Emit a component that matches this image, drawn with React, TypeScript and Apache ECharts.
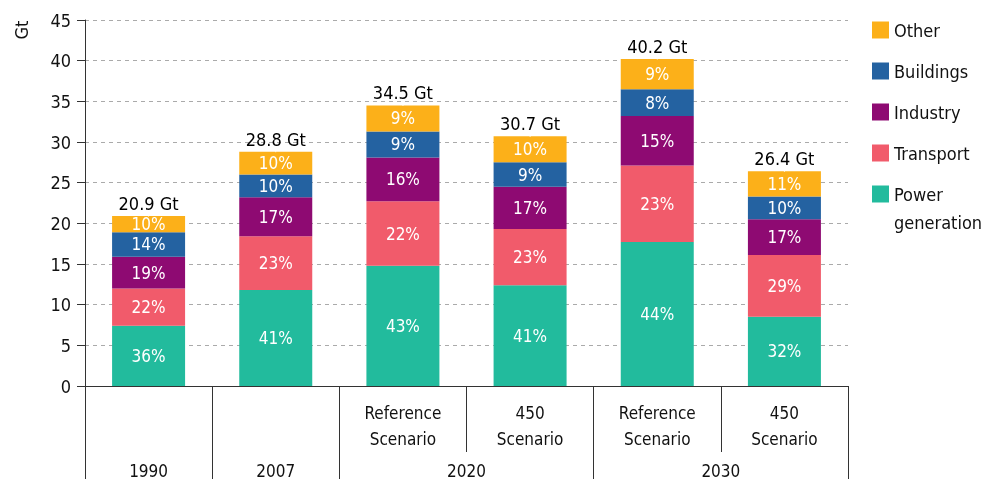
import React, { useEffect, useRef } from "react";
import * as echarts from "echarts";

const categories = ["1990", "2007", "2020 Reference Scenario", "2020 450 Scenario", "2030 Reference Scenario", "2030 450 Scenario"];
const subLabels = ["", "", "Reference\nScenario", "450\nScenario", "Reference\nScenario", "450\nScenario"];
const yearGroups = [
  { year: "1990", span: 1 },
  { year: "2007", span: 1 },
  { year: "2020", span: 2 },
  { year: "2030", span: 2 },
];

const powerValues = [7.4, 11.8, 14.8, 12.4, 17.7, 8.5];
const transportValues = [4.6, 6.6, 7.9, 6.9, 9.4, 7.6];
const industryValues = [3.9, 4.8, 5.4, 5.2, 6.1, 4.4];
const buildingsValues = [3.0, 2.8, 3.2, 3.0, 3.3, 2.8];
const otherValues = [2.0, 2.8, 3.2, 3.2, 3.7, 3.1];
const totals = [20.9, 28.8, 34.5, 30.7, 40.2, 26.4];

const powerPct = ["36%", "41%", "43%", "41%", "44%", "32%"];
const transportPct = ["22%", "23%", "22%", "23%", "23%", "29%"];
const industryPct = ["19%", "17%", "16%", "17%", "15%", "17%"];
const buildingsPct = ["14%", "10%", "9%", "9%", "8%", "10%"];
const otherPct = ["10%", "10%", "9%", "10%", "9%", "11%"];

const yTicks = { min: 0, max: 45, interval: 5 };
const legendOrder = ["Other", "Buildings", "Industry", "Transport", "Power generation"];

const FONT = '"Liberation Sans Narrow", "DejaVu Sans Condensed", "Roboto", sans-serif';

export default function App() {
  const ref = useRef<HTMLDivElement>(null);
  useEffect(() => {
    if (!ref.current) return;
    const chart = echarts.init(ref.current, undefined, { renderer: "svg" });

    const groupStarts: number[] = [];
    const yearLabelAt: Record<string, string> = {};
    let pos = 0;
    yearGroups.forEach((g) => {
      groupStarts.push(pos);
      yearLabelAt[String(pos + g.span / 2)] = g.year;
      pos += g.span;
    });

    const mk = (name: string, values: number[], pct: string[], color: string) => ({
      name,
      type: "bar",
      stack: "total",
      xAxisIndex: 0,
      yAxisIndex: 0,
      barWidth: 73,
      data: values,
      itemStyle: { color },
      label: {
        show: true,
        position: "inside",
        color: "#fff",
        fontSize: 17,
        fontFamily: FONT,
        formatter: (p: any) => pct[p.dataIndex],
      },
    });

    chart.setOption({
      animation: false,
      textStyle: { fontFamily: FONT },
      grid: { left: 85, top: 20, width: 763, height: 366 },
      legend: {
        orient: "vertical",
        left: 872,
        top: 21,
        padding: 0,
        itemWidth: 17,
        itemHeight: 17,
        itemGap: 23,
        icon: "rect",
        textStyle: { fontSize: 18, color: "#111", fontFamily: FONT, lineHeight: 17, height: 17 },
        formatter: (n: string) => (n === "Power generation" ? "Power" : n),
        data: legendOrder,
      },
      xAxis: [
        {
          type: "category",
          data: categories,
          position: "bottom",
          axisLine: { show: true, lineStyle: { color: "#333", width: 1 } },
          axisTick: {
            show: true,
            length: 93,
            lineStyle: { color: "#333" },
            interval: (i: number) => groupStarts.indexOf(i) >= 0,
          },
          axisLabel: {
            interval: 0,
            margin: 14,
            fontSize: 17,
            lineHeight: 26,
            color: "#111",
            fontFamily: FONT,
            formatter: (_v: string, i: number) => subLabels[i],
          },
        },
        {
          type: "category",
          data: categories,
          position: "bottom",
          axisLine: { show: false },
          axisTick: {
            show: true,
            length: 66,
            lineStyle: { color: "#333" },
            interval: (i: number) => groupStarts.indexOf(i) < 0,
          },
          axisLabel: { show: false },
        },
        {
          type: "value",
          position: "bottom",
          min: 0,
          max: categories.length,
          interval: 0.5,
          axisLine: { show: false },
          axisTick: { show: false },
          splitLine: { show: false },
          axisLabel: {
            margin: 76,
            fontSize: 17,
            color: "#111",
            fontFamily: FONT,
            showMinLabel: true,
            showMaxLabel: true,
            formatter: (v: number) => yearLabelAt[String(v)] || "",
          },
        },
      ],
      yAxis: {
        type: "value",
        min: yTicks.min,
        max: yTicks.max,
        interval: yTicks.interval,
        axisLine: { show: true, lineStyle: { color: "#333" } },
        axisTick: { show: true, length: 8, lineStyle: { color: "#333" } },
        axisLabel: { fontSize: 18, color: "#111", margin: 14, fontFamily: FONT },
        splitLine: { show: true, lineStyle: { color: "#aaa", type: [4, 4] } },
      },
      graphic: [
        {
          type: "text",
          x: 21,
          y: 30,
          rotation: Math.PI / 2,
          style: {
            text: "Gt",
            fontSize: 18,
            fontFamily: FONT,
            fill: "#111",
            align: "center",
            verticalAlign: "middle",
          },
        },
        {
          type: "text",
          x: 894,
          y: 222,
          style: {
            text: "generation",
            fontSize: 18,
            fontFamily: FONT,
            fill: "#111",
            align: "left",
            verticalAlign: "middle",
          },
        },
      ],
      series: [
        mk("Power generation", powerValues, powerPct, "#22BB9D"),
        mk("Transport", transportValues, transportPct, "#F15B6B"),
        mk("Industry", industryValues, industryPct, "#8E0A72"),
        mk("Buildings", buildingsValues, buildingsPct, "#2462A1"),
        mk("Other", otherValues, otherPct, "#FCB019"),
        {
          name: "Total",
          type: "scatter",
          xAxisIndex: 0,
          yAxisIndex: 0,
          data: totals,
          symbolSize: 1,
          itemStyle: { color: "#fff", opacity: 1 },
          silent: true,
          z: 5,
          label: {
            show: true,
            position: "top",
            distance: 3,
            fontSize: 18,
            color: "#000",
            opacity: 1,
            fontFamily: FONT,
            formatter: (p: any) => `${totals[p.dataIndex]} Gt`,
          },
        },
      ],
    });
    return () => chart.dispose();
  }, []);
  return <div ref={ref} style={{ position: "fixed", left: 0, top: 0, width: 987, height: 479 }} />;
}
